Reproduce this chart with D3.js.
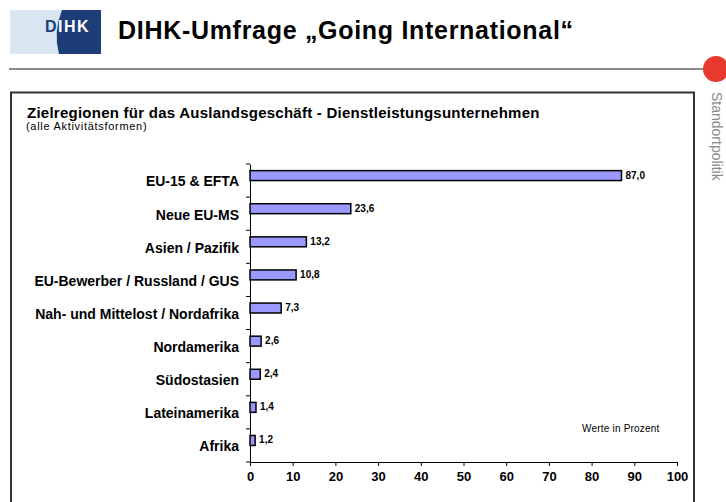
<!DOCTYPE html>
<html>
<head>
<meta charset="utf-8">
<script src="https://cdn.jsdelivr.net/npm/d3@7"></script>
<style>
  body { margin: 0; background: #fff; }
  text { font-family: "Liberation Sans", Arial, sans-serif; }
</style>
</head>
<body>
<script>
// Data
var regions = ["EU-15 & EFTA", "Neue EU-MS", "Asien / Pazifik", "EU-Bewerber / Russland / GUS",
               "Nah- und Mittelost / Nordafrika", "Nordamerika", "Südostasien", "Lateinamerika", "Afrika"];
var shares = [87.0, 23.6, 13.2, 10.8, 7.3, 2.6, 2.4, 1.4, 1.2];
var xTicks = [0, 10, 20, 30, 40, 50, 60, 70, 80, 90, 100];

var W = 726, H = 502;
var plot = {left: 250, right: 677, top: 164, bottom: 462};

var svg = d3.select("body").append("svg")
    .attr("width", W)
    .attr("height", H);

// ---- page header ----
var logo = svg.append("g");
logo.append("rect")
    .attr("x", 10).attr("y", 10).attr("width", 91).attr("height", 44)
    .attr("fill", "#d9e5f1");
logo.append("path")
    .attr("d", "M62,10 Q53,32 59,54 L101,54 L101,10 Z")
    .attr("fill", "#1d3d78");
var logoText = logo.append("text")
    .attr("x", 45).attr("y", 32)
    .style("font-size", "16px")
    .style("font-weight", "bold")
    .style("letter-spacing", "1.5px");
logoText.append("tspan").attr("fill", "#1d3d78").text("D");
logoText.append("tspan").attr("fill", "#fff").text("IHK");

svg.append("text")
    .attr("x", 118).attr("y", 39)
    .style("font-size", "25px")
    .style("font-weight", "bold")
    .style("letter-spacing", "0.7px")
    .attr("fill", "#000")
    .text("DIHK-Umfrage \u201EGoing International\u201C");

svg.append("line")
    .attr("x1", 9).attr("x2", 703).attr("y1", 69).attr("y2", 69)
    .attr("stroke", "#666").attr("stroke-width", 1.5);

svg.append("circle")
    .attr("cx", 716).attr("cy", 69).attr("r", 13)
    .attr("fill", "#e8392d");

svg.append("text")
    .attr("transform", "translate(712,92) rotate(90)")
    .style("font-size", "14px")
    .attr("fill", "#8a8a8a")
    .text("Standortpolitik");

// ---- chart frame ----
svg.append("rect")
    .attr("x", 11).attr("y", 92.5).attr("width", 683).attr("height", 430)
    .attr("fill", "none")
    .attr("stroke", "#333").attr("stroke-width", 2);

svg.append("text")
    .attr("x", 27).attr("y", 118)
    .style("font-size", "15px")
    .style("font-weight", "bold")
    .style("letter-spacing", "0.25px")
    .text("Zielregionen für das Auslandsgeschäft - Dienstleistungsunternehmen");

svg.append("text")
    .attr("x", 26).attr("y", 130)
    .style("font-size", "11px")
    .style("letter-spacing", "0.7px")
    .text("(alle Aktivitätsformen)");

// ---- scales ----
var x = d3.scaleLinear().domain([0, 100]).range([plot.left, plot.right]);
var y = d3.scaleBand().domain(regions).range([plot.top, plot.bottom]);

// x axis
var xAxis = d3.axisBottom(x).tickValues(xTicks).tickSize(4).tickPadding(6).tickFormat(d3.format("d"));
var gx = svg.append("g")
    .attr("transform", "translate(0," + plot.bottom + ")")
    .call(xAxis);
gx.select(".domain").attr("stroke", "#000");
gx.selectAll("text")
    .style("font-family", "Liberation Sans, Arial, sans-serif")
    .style("font-size", "13px")
    .style("font-weight", "bold")
    .attr("fill", "#000");

// y axis: labels at band centres, ticks at band boundaries
var yAxis = d3.axisLeft(y).tickSize(0).tickPadding(11);
var gy = svg.append("g")
    .attr("transform", "translate(" + plot.left + ",0)")
    .call(yAxis);
gy.select(".domain").attr("stroke", "#000");
gy.selectAll("text")
    .style("font-family", "Liberation Sans, Arial, sans-serif")
    .style("font-size", "14px")
    .style("font-weight", "bold")
    .attr("fill", "#000")
    .attr("dy", "0.42em");

var bounds = regions.map(function(r) { return y(r); }).concat([plot.bottom]);
svg.append("g").selectAll("line")
    .data(bounds).enter().append("line")
    .attr("x1", plot.left - 4).attr("x2", plot.left)
    .attr("y1", function(d) { return d; })
    .attr("y2", function(d) { return d; })
    .attr("stroke", "#000");

// bars
var bars = svg.append("g").selectAll("g")
    .data(regions.map(function(r, i) { return {region: r, value: shares[i]}; }))
    .enter().append("g");

bars.append("rect")
    .attr("x", x(0))
    .attr("y", function(d) { return y(d.region) + y.bandwidth() * 0.2; })
    .attr("width", function(d) { return x(d.value) - x(0); })
    .attr("height", y.bandwidth() * 0.3)
    .attr("fill", "#9999ff")
    .attr("stroke", "#000")
    .attr("stroke-width", 1.5);

bars.append("text")
    .attr("x", function(d) { return x(d.value) + 4; })
    .attr("y", function(d) { return y(d.region) + y.bandwidth() * 0.35; })
    .attr("dy", "0.3em")
    .style("font-size", "10px")
    .style("font-weight", "bold")
    .text(function(d) { return d3.format(".1f")(d.value).replace(".", ","); });

svg.append("text")
    .attr("x", 582).attr("y", 432)
    .style("font-size", "10px")
    .style("letter-spacing", "0.2px")
    .text("Werte in Prozent");
</script>
</body>
</html>
